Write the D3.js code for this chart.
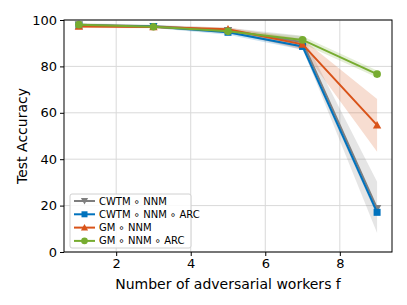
<!DOCTYPE html>
<html><head><meta charset="utf-8">
<script src="https://cdn.jsdelivr.net/npm/d3@7"></script>
<style>body{margin:0;background:#fff}svg{font-family:"DejaVu Sans",sans-serif}</style>
</head><body>
<script>
const xs = [1, 3, 5, 7, 9];
const seriesNames = ["CWTM ∘ NNM", "CWTM ∘ NNM ∘ ARC", "GM ∘ NNM", "GM ∘ NNM ∘ ARC"];
const cwtmNnm = [98.0, 97.3, 95.5, 90.5, 18.8];
const cwtmNnmLo = [97.3, 96.6, 94.3, 87.8, 8.2];
const cwtmNnmHi = [98.7, 98.0, 96.7, 93.2, 30.3];
const cwtmArc = [97.6, 97.2, 94.7, 88.6, 17.1];
const cwtmArcLo = [97.1, 96.6, 93.6, 87.2, 15.6];
const cwtmArcHi = [98.1, 97.8, 95.8, 90.0, 18.6];
const gmNnm = [97.2, 97.0, 96.0, 89.5, 54.7];
const gmNnmLo = [96.6, 96.4, 95.2, 87.2, 43.2];
const gmNnmHi = [97.8, 97.6, 96.8, 91.8, 66.0];
const gmArc = [98.0, 97.1, 95.1, 91.4, 76.7];
const gmArcLo = [97.5, 96.6, 94.3, 89.8, 75.2];
const gmArcHi = [98.5, 97.6, 95.9, 93.0, 78.2];
const xTicks = [2, 4, 6, 8];
const yTicks = [0, 20, 40, 60, 80, 100];
const colors = ["#7f7f7f", "#0072BD", "#D95319", "#77AC30"];
const markers = ["down", "square", "up", "circle"];

const W = 407, H = 305;
const m = {l: 64, r: 15, t: 20, b: 53};
const svg = d3.select("body").append("svg").attr("width", W).attr("height", H);
const x = d3.scaleLinear().domain([0.6, 9.4]).range([m.l, W - m.r]);
const y = d3.scaleLinear().domain([0, 100]).range([H - m.b, m.t]);

// grid
svg.append("g").selectAll("line").data(xTicks).join("line")
  .attr("x1", d => x(d)).attr("x2", d => x(d)).attr("y1", m.t).attr("y2", H - m.b)
  .attr("stroke", "#d9d9d9").attr("stroke-width", 1);
svg.append("g").selectAll("line").data(yTicks).join("line")
  .attr("y1", d => y(d)).attr("y2", d => y(d)).attr("x1", m.l).attr("x2", W - m.r)
  .attr("stroke", "#d9d9d9").attr("stroke-width", 1);

const series = [
  {v: cwtmNnm, lo: cwtmNnmLo, hi: cwtmNnmHi},
  {v: cwtmArc, lo: cwtmArcLo, hi: cwtmArcHi},
  {v: gmNnm, lo: gmNnmLo, hi: gmNnmHi},
  {v: gmArc, lo: gmArcLo, hi: gmArcHi}
];
const area = d3.area().x(d => x(d.x)).y0(d => y(d.lo)).y1(d => y(d.hi));
const line = d3.line().x(d => x(d.x)).y(d => y(d.v));

function marker(g, type, cx, cy, color, s) {
  if (type === "circle") g.append("circle").attr("cx", cx).attr("cy", cy).attr("r", s * 0.55).attr("fill", color);
  else if (type === "square") g.append("rect").attr("x", cx - s / 2).attr("y", cy - s / 2).attr("width", s).attr("height", s).attr("fill", color);
  else {
    const h = s * 0.6;
    const pts = type === "up" ? [[cx, cy - h], [cx - h, cy + h * 0.8], [cx + h, cy + h * 0.8]]
                              : [[cx, cy + h], [cx - h, cy - h * 0.8], [cx + h, cy - h * 0.8]];
    g.append("polygon").attr("points", pts.map(p => p.join(",")).join(" ")).attr("fill", color);
  }
}

series.forEach((s, i) => {
  const pts = xs.map((xv, j) => ({x: xv, v: s.v[j], lo: s.lo[j], hi: s.hi[j]}));
  svg.append("path").datum(pts).attr("d", area).attr("fill", colors[i]).attr("fill-opacity", 0.2);
});
series.forEach((s, i) => {
  const pts = xs.map((xv, j) => ({x: xv, v: s.v[j]}));
  const g = svg.append("g");
  g.append("path").datum(pts).attr("d", line).attr("fill", "none").attr("stroke", colors[i]).attr("stroke-width", 2);
  pts.forEach(p => marker(g, markers[i], x(p.x), y(p.v), colors[i], 7));
});

// frame
svg.append("rect").attr("x", m.l).attr("y", m.t).attr("width", W - m.r - m.l).attr("height", H - m.b - m.t)
  .attr("fill", "none").attr("stroke", "#000").attr("stroke-width", 1);

const xAxis = svg.append("g").attr("transform", `translate(0,${H - m.b})`)
  .call(d3.axisBottom(x).tickValues(xTicks).tickSize(4).tickPadding(3).tickFormat(d3.format("d")));
const yAxis = svg.append("g").attr("transform", `translate(${m.l},0)`)
  .call(d3.axisLeft(y).tickValues(yTicks).tickSize(4).tickPadding(3).tickFormat(d3.format("d")));
[xAxis, yAxis].forEach(a => {
  a.select(".domain").remove();
  a.selectAll("text").attr("font-size", 13).attr("fill", "#000").attr("font-family", "DejaVu Sans");
  a.selectAll("line").attr("stroke", "#000");
});

svg.append("text").attr("x", (m.l + W - m.r) / 2).attr("y", 289).attr("text-anchor", "middle")
  .attr("font-size", 14).text("Number of adversarial workers f");
svg.append("text").attr("transform", `translate(27,${(m.t + H - m.b) / 2}) rotate(-90)`)
  .attr("text-anchor", "middle").attr("font-size", 14).text("Test Accuracy");

// legend
const lg = svg.append("g").attr("transform", "translate(70,194)");
lg.append("rect").attr("width", 121).attr("height", 54).attr("rx", 2).attr("fill", "#fff").attr("fill-opacity", 0.85)
  .attr("stroke", "#d0d0d0");
seriesNames.forEach((n, i) => {
  const cy = 7 + i * 13.3;
  lg.append("line").attr("x1", 4).attr("x2", 25).attr("y1", cy).attr("y2", cy).attr("stroke", colors[i]).attr("stroke-width", 2);
  marker(lg, markers[i], 14.5, cy, colors[i], 6);
  lg.append("text").attr("x", 29).attr("y", cy + 3.5).attr("font-size", 10).text(n);
});
</script>
</body></html>
